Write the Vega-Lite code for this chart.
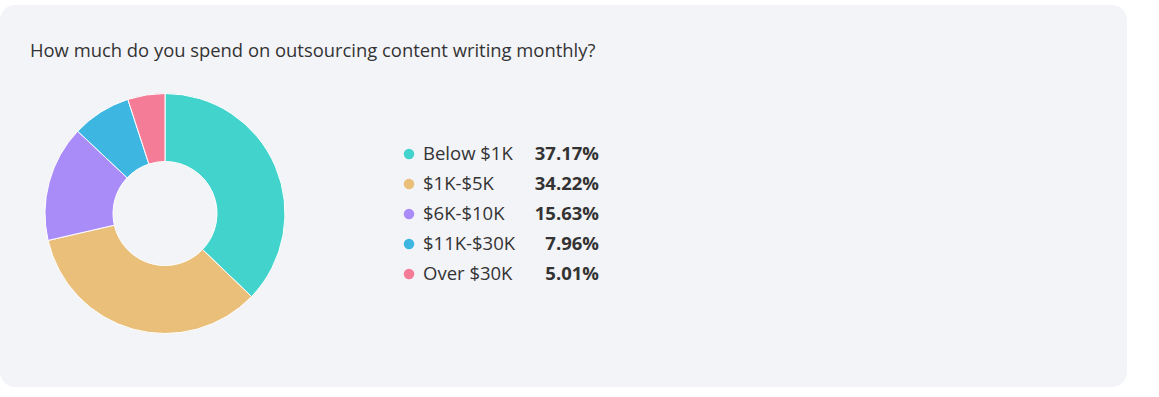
{
  "$schema": "https://vega.github.io/schema/vega-lite/v6.json",
  "width": 1127,
  "height": 382,
  "padding": {"left": 0, "top": 5, "right": 32, "bottom": 10},
  "background": "#ffffff",
  "config": {
    "view": {"fill": "#f3f4f8", "stroke": null, "cornerRadius": 15},
    "font": "Open Sans"
  },
  "title": {
    "text": "How much do you spend on outsourcing content writing monthly?",
    "anchor": "start",
    "frame": "group",
    "orient": "top",
    "offset": -70,
    "dx": 30,
    "baseline": "alphabetic",
    "fontSize": 18.4,
    "fontWeight": "normal",
    "color": "#333333",
    "font": "Open Sans"
  },
  "data": {
    "values": [
      {"category": "Below $1K", "share": 0.3717, "rank": 1},
      {"category": "$1K-$5K", "share": 0.3422, "rank": 2},
      {"category": "$6K-$10K", "share": 0.1563, "rank": 3},
      {"category": "$11K-$30K", "share": 0.0796, "rank": 4},
      {"category": "Over $30K", "share": 0.0501, "rank": 5}
    ]
  },
  "layer": [
    {
      "mark": {"type": "arc", "outerRadius": 120, "innerRadius": 52, "stroke": "#ffffff", "strokeWidth": 1},
      "encoding": {
        "theta": {"field": "share", "type": "quantitative", "stack": true},
        "order": {"field": "rank", "type": "quantitative"},
        "color": {
          "field": "category",
          "type": "nominal",
          "scale": {
            "domain": ["Below $1K", "$1K-$5K", "$6K-$10K", "$11K-$30K", "Over $30K"],
            "range": ["#42d3cc", "#e9bf7a", "#aa8cf9", "#3db7e2", "#f57c97"]
          },
          "legend": null
        },
        "x": {"datum": 165, "type": "quantitative", "scale": {"domain": [0, 1127], "nice": false, "zero": false}, "axis": null},
        "y": {"datum": 208.5, "type": "quantitative", "scale": {"domain": [0, 382], "nice": false, "reverse": true}, "axis": null}
      }
    },
    {
      "mark": {"type": "circle", "size": 110, "opacity": 1},
      "encoding": {
        "x": {"datum": 409, "type": "quantitative"},
        "y": {"field": "rank", "type": "quantitative", "scale": {"domain": [1, 5], "nice": false, "range": [149, 269]}, "axis": null},
        "color": {"field": "category", "type": "nominal", "legend": null}
      }
    },
    {
      "mark": {"type": "text", "align": "left", "baseline": "middle", "fontSize": 18.5, "color": "#333333"},
      "encoding": {
        "x": {"datum": 423, "type": "quantitative"},
        "y": {"field": "rank", "type": "quantitative", "scale": {"domain": [1, 5], "nice": false, "range": [149, 269]}, "axis": null},
        "text": {"field": "category", "type": "nominal"}
      }
    },
    {
      "mark": {"type": "text", "align": "right", "baseline": "middle", "fontSize": 18.5, "fontWeight": "bold", "color": "#333333"},
      "encoding": {
        "x": {"datum": 599, "type": "quantitative"},
        "y": {"field": "rank", "type": "quantitative", "scale": {"domain": [1, 5], "nice": false, "range": [149, 269]}, "axis": null},
        "text": {"field": "share", "type": "quantitative", "format": ".2%"}
      }
    }
  ],
  "resolve": {"scale": {"y": "independent"}}
}
